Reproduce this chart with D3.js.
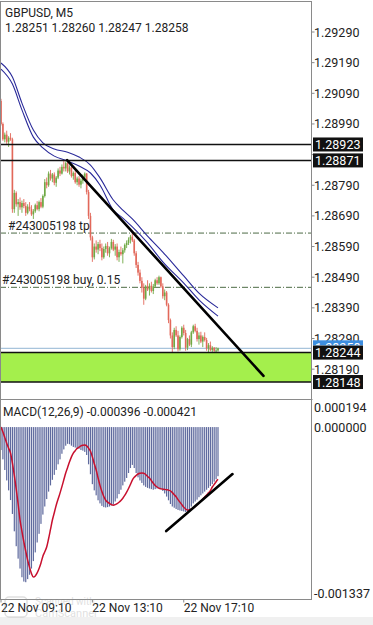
<!DOCTYPE html>
<html><head><meta charset="utf-8">
<script src="https://cdnjs.cloudflare.com/ajax/libs/d3/7.8.5/d3.min.js"></script>
<style>html,body{margin:0;padding:0;background:#fff;overflow:hidden}svg{display:block;font-family:Roboto,"Noto Sans",sans-serif}</style>
</head><body><svg id="c" width="373" height="625"></svg>
<script>
// ---------- DATA (GBPUSD M5, bar index 0 = 22 Nov 09:10) ----------
const opens  = [1.29065,1.28990,1.28940,1.28955,1.28932,1.28945,1.28940,1.28712,1.28765,1.28728,1.28735,1.28718,1.28732,1.28722,1.28700,1.28720,1.28712,1.28695,1.28705,1.28725,1.28712,1.28735,1.28720,1.28755,1.28800,1.28790,1.28828,1.28812,1.28825,1.28798,1.28815,1.28838,1.28828,1.28850,1.28845,1.28862,1.28835,1.28848,1.28820,1.28830,1.28800,1.28812,1.28792,1.28805,1.28815,1.28828,1.28768,1.28690,1.28620,1.28555,1.28590,1.28580,1.28598,1.28585,1.28555,1.28582,1.28592,1.28568,1.28585,1.28605,1.28580,1.28590,1.28555,1.28572,1.28565,1.28578,1.28595,1.28602,1.28612,1.28622,1.28610,1.28568,1.28530,1.28505,1.28478,1.28455,1.28420,1.28460,1.28450,1.28462,1.28445,1.28460,1.28480,1.28470,1.28490,1.28460,1.28428,1.28440,1.28400,1.28350,1.28300,1.28262,1.28318,1.28300,1.28255,1.28295,1.28325,1.28308,1.28260,1.28288,1.28270,1.28310,1.28330,1.28315,1.28288,1.28300,1.28280,1.28295,1.28285,1.28258,1.28268,1.28252,1.28260,1.28250,1.28251];
const highs  = [1.29072,1.28995,1.28962,1.28968,1.28950,1.28960,1.28945,1.28775,1.28770,1.28745,1.28750,1.28740,1.28745,1.28735,1.28728,1.28735,1.28725,1.28712,1.28730,1.28738,1.28740,1.28748,1.28760,1.28810,1.28815,1.28835,1.28840,1.28830,1.28832,1.28820,1.28845,1.28850,1.28858,1.28870,1.28868,1.28866,1.28855,1.28852,1.28835,1.28838,1.28818,1.28820,1.28812,1.28825,1.28832,1.28830,1.28775,1.28700,1.28625,1.28600,1.28610,1.28605,1.28612,1.28600,1.28590,1.28600,1.28605,1.28590,1.28615,1.28612,1.28598,1.28600,1.28580,1.28590,1.28585,1.28600,1.28610,1.28620,1.28628,1.28634,1.28615,1.28575,1.28540,1.28515,1.28490,1.28470,1.28465,1.28480,1.28470,1.28475,1.28468,1.28485,1.28490,1.28495,1.28492,1.28470,1.28450,1.28445,1.28405,1.28355,1.28310,1.28325,1.28330,1.28315,1.28300,1.28330,1.28335,1.28318,1.28292,1.28300,1.28315,1.28335,1.28338,1.28325,1.28310,1.28312,1.28300,1.28310,1.28292,1.28275,1.28280,1.28265,1.28262,1.28262,1.28260];
const lows   = [1.28985,1.28935,1.28930,1.28925,1.28915,1.28935,1.28700,1.28700,1.28720,1.28690,1.28710,1.28700,1.28715,1.28690,1.28695,1.28705,1.28690,1.28680,1.28700,1.28708,1.28705,1.28715,1.28715,1.28750,1.28780,1.28785,1.28805,1.28800,1.28790,1.28785,1.28810,1.28820,1.28825,1.28835,1.28835,1.28830,1.28825,1.28815,1.28808,1.28795,1.28790,1.28785,1.28780,1.28795,1.28805,1.28760,1.28680,1.28610,1.28540,1.28548,1.28570,1.28565,1.28575,1.28545,1.28550,1.28570,1.28560,1.28555,1.28580,1.28575,1.28560,1.28545,1.28540,1.28560,1.28535,1.28570,1.28585,1.28595,1.28600,1.28605,1.28560,1.28520,1.28495,1.28470,1.28440,1.28400,1.28415,1.28445,1.28430,1.28440,1.28435,1.28455,1.28465,1.28465,1.28455,1.28420,1.28415,1.28395,1.28340,1.28290,1.28245,1.28255,1.28295,1.28248,1.28250,1.28290,1.28300,1.28250,1.28252,1.28265,1.28262,1.28305,1.28310,1.28280,1.28270,1.28275,1.28262,1.28280,1.28250,1.28245,1.28248,1.28244,1.28244,1.28246,1.28247];
const closes = [1.28990,1.28940,1.28955,1.28932,1.28945,1.28940,1.28712,1.28765,1.28728,1.28735,1.28718,1.28732,1.28722,1.28700,1.28720,1.28712,1.28695,1.28705,1.28725,1.28712,1.28735,1.28720,1.28755,1.28800,1.28790,1.28828,1.28812,1.28825,1.28798,1.28815,1.28838,1.28828,1.28850,1.28845,1.28862,1.28835,1.28848,1.28820,1.28830,1.28800,1.28812,1.28792,1.28805,1.28815,1.28828,1.28768,1.28690,1.28620,1.28555,1.28590,1.28580,1.28598,1.28585,1.28555,1.28582,1.28592,1.28568,1.28585,1.28605,1.28580,1.28590,1.28555,1.28572,1.28565,1.28578,1.28595,1.28602,1.28612,1.28622,1.28610,1.28568,1.28530,1.28505,1.28478,1.28455,1.28420,1.28460,1.28450,1.28462,1.28445,1.28460,1.28480,1.28470,1.28490,1.28460,1.28428,1.28440,1.28400,1.28350,1.28300,1.28262,1.28318,1.28300,1.28255,1.28295,1.28325,1.28308,1.28260,1.28288,1.28270,1.28310,1.28330,1.28315,1.28288,1.28300,1.28280,1.28295,1.28285,1.28258,1.28268,1.28252,1.28260,1.28250,1.28251,1.28258];

// moving-average envelope (upper / lower), read at these bar indices
const maIdx   = [0,6,11,17,22,28,35,41,47,52,59,64,69,77,85,96,104,114];
const maUpper = [1.29189,1.29143,1.29058,1.28970,1.28928,1.28908,1.28898,1.28882,1.28856,1.28814,1.28742,1.28709,1.28680,1.28624,1.28572,1.28494,1.28438,1.28390];
const maLower = [1.29169,1.29120,1.29036,1.28947,1.28912,1.28885,1.28869,1.28853,1.28830,1.28791,1.28709,1.28683,1.28654,1.28602,1.28540,1.28471,1.28416,1.28363];

// MACD(12,26,9): main (histogram) and signal, per bar
const macdMain = [-0.000185,-0.000260,-0.000346,-0.000430,-0.000510,-0.000588,-0.000700,-0.000840,-0.000960,-0.001060,-0.001140,-0.001210,-0.001245,-0.001250,-0.001225,-0.001190,-0.001140,-0.001080,-0.001010,-0.000930,-0.000860,-0.000780,-0.000705,-0.000640,-0.000580,-0.000520,-0.000470,-0.000425,-0.000385,-0.000345,-0.000300,-0.000260,-0.000215,-0.000180,-0.000150,-0.000135,-0.000138,-0.000150,-0.000160,-0.000165,-0.000170,-0.000175,-0.000185,-0.000190,-0.000200,-0.000225,-0.000300,-0.000380,-0.000460,-0.000510,-0.000550,-0.000590,-0.000615,-0.000635,-0.000645,-0.000648,-0.000645,-0.000640,-0.000632,-0.000625,-0.000600,-0.000575,-0.000540,-0.000505,-0.000470,-0.000440,-0.000410,-0.000370,-0.000330,-0.000305,-0.000330,-0.000370,-0.000405,-0.000430,-0.000450,-0.000470,-0.000482,-0.000490,-0.000495,-0.000500,-0.000505,-0.000500,-0.000495,-0.000490,-0.000500,-0.000515,-0.000535,-0.000560,-0.000590,-0.000620,-0.000640,-0.000650,-0.000660,-0.000668,-0.000672,-0.000676,-0.000680,-0.000684,-0.000680,-0.000665,-0.000640,-0.000615,-0.000600,-0.000585,-0.000565,-0.000550,-0.000535,-0.000520,-0.000505,-0.000490,-0.000475,-0.000460,-0.000440,-0.000420,-0.000396];
const macdSignal = [0,-0.000040,-0.000085,-0.000130,-0.000170,-0.000210,-0.000290,-0.000390,-0.000500,-0.000620,-0.000749,-0.000840,-0.000925,-0.001000,-0.001072,-0.001130,-0.001180,-0.001209,-0.001200,-0.001175,-0.001140,-0.001095,-0.001040,-0.001005,-0.000967,-0.000900,-0.000825,-0.000749,-0.000690,-0.000630,-0.000580,-0.000532,-0.000480,-0.000425,-0.000370,-0.000325,-0.000280,-0.000240,-0.000210,-0.000190,-0.000172,-0.000162,-0.000152,-0.000147,-0.000145,-0.000152,-0.000170,-0.000195,-0.000240,-0.000295,-0.000346,-0.000410,-0.000470,-0.000520,-0.000560,-0.000590,-0.000605,-0.000615,-0.000625,-0.000629,-0.000625,-0.000616,-0.000606,-0.000592,-0.000573,-0.000550,-0.000524,-0.000495,-0.000462,-0.000427,-0.000405,-0.000390,-0.000378,-0.000372,-0.000370,-0.000372,-0.000382,-0.000398,-0.000411,-0.000432,-0.000452,-0.000470,-0.000483,-0.000493,-0.000498,-0.000500,-0.000502,-0.000505,-0.000508,-0.000515,-0.000528,-0.000545,-0.000562,-0.000585,-0.000605,-0.000625,-0.000645,-0.000660,-0.000669,-0.000668,-0.000660,-0.000653,-0.000640,-0.000625,-0.000612,-0.000597,-0.000580,-0.000563,-0.000548,-0.000530,-0.000512,-0.000483,-0.000462,-0.000440,-0.000421];

// levels / objects
const hLevels   = [1.28923, 1.28871, 1.28244, 1.28148];
const zoneLevels = [1.28244, 1.28148];
const bidPrice  = 1.28258;
const orderLevels = [1.28634, 1.28457];
const orderLabels = ["#243005198 tp", "#243005198 buy, 0.15"];
const priceTrend = [[34.7, 1.28872], [137.9, 1.28168]];
const macdTrend  = [[86.8, -0.000838], [121.6, -0.000379]];

// axes
const priceTicks = ["1.29290","1.29190","1.29090","1.28990","1.28890","1.28790","1.28690","1.28590","1.28490","1.28390","1.28290","1.28190"];
const macdTicks = ["0.000194","0.000000","-0.001337"];
const timeTickIdx = [0, 48, 96];
const timeLabels = ["22 Nov 09:10", "22 Nov 13:10", "22 Nov 17:10"];
const headerSymbol = "GBPUSD, M5";
const headerOHLC = "1.28251 1.28260 1.28247 1.28258";
const macdTitle = "MACD(12,26,9) -0.000396 -0.000421";

// ---------- DRAW ----------
const svg = d3.select("#c");
const R = 311.5, MT = 1, MB = 399.5, DT = 399.5, DB = 599.5;
const x = d3.scaleLinear().domain([0, 114]).range([1, 218]);
const y = d3.scaleLinear().domain([1.28190, 1.29290]).range([369.15, 32]);
const ym = d3.scaleLinear().domain([-0.001337, 0.000194]).range([593, 403]);

const defs = svg.append("defs");
defs.append("clipPath").attr("id","cm").append("rect").attr("x",0).attr("y",MT).attr("width",R).attr("height",MB-MT);
defs.append("clipPath").attr("id","cd").append("rect").attr("x",0).attr("y",DT).attr("width",R).attr("height",DB-DT);

svg.append("rect").attr("x",0).attr("y",617).attr("width",373).attr("height",8).attr("fill","#f0f0f0");

const gm = svg.append("g").attr("clip-path","url(#cm)");
// green zone
gm.append("rect").attr("x",0).attr("width",R)
  .attr("y", y(zoneLevels[0])).attr("height", y(zoneLevels[1]) - y(zoneLevels[0]))
  .attr("fill","#a4ef4c");
// bid line
gm.append("line").attr("x1",0).attr("x2",R).attr("y1",y(bidPrice)).attr("y2",y(bidPrice))
  .attr("stroke","#a8c4dc").attr("stroke-width",1.2);
// order lines
gm.selectAll(".ord").data(orderLevels).join("line")
  .attr("x1",0).attr("x2",R).attr("y1",d=>y(d)).attr("y2",d=>y(d))
  .attr("stroke","#4d6b45").attr("stroke-width",1).attr("stroke-dasharray","6,2,1,2");
// candles
const idx = d3.range(closes.length);
const col = i => closes[i] >= opens[i] ? "#6fa844" : "#e2685a";
gm.selectAll(".wick").data(idx).join("line")
  .attr("x1",i=>x(i)).attr("x2",i=>x(i)).attr("y1",i=>y(highs[i])).attr("y2",i=>y(lows[i]))
  .attr("stroke",col).attr("stroke-width",0.9);
gm.selectAll(".body").data(idx).join("rect")
  .attr("x",i=>x(i)-0.8).attr("width",1.6)
  .attr("y",i=>y(Math.max(opens[i],closes[i])))
  .attr("height",i=>Math.max(1, Math.abs(y(opens[i])-y(closes[i]))))
  .attr("fill",col);
// MA lines
const maLine = arr => d3.line().x((d,k)=>x(maIdx[k])).y(d=>y(d)).curve(d3.curveMonotoneX)(arr);
gm.append("path").attr("d",maLine(maUpper)).attr("fill","none").attr("stroke","#2a2a9a").attr("stroke-width",1.1);
gm.append("path").attr("d",maLine(maLower)).attr("fill","none").attr("stroke","#2a2a9a").attr("stroke-width",1.1);
// horizontal levels
gm.selectAll(".lvl").data(hLevels).join("line")
  .attr("x1",0).attr("x2",R).attr("y1",d=>y(d)).attr("y2",d=>y(d))
  .attr("stroke","#111").attr("stroke-width",1.5);
// trend line
gm.append("line").attr("x1",x(priceTrend[0][0])).attr("y1",y(priceTrend[0][1]))
  .attr("x2",x(priceTrend[1][0])).attr("y2",y(priceTrend[1][1]))
  .attr("stroke","#000").attr("stroke-width",2.6).attr("stroke-linecap","round");
// order labels
const ordX = [8, 2];
gm.selectAll(".ordt").data(orderLabels).join("text")
  .attr("x",(d,k)=>ordX[k]).attr("y",(d,k)=>y(orderLevels[k])-3)
  .attr("font-size",12).attr("fill","#222").text(d=>d);

// MACD panel
const gd = svg.append("g").attr("clip-path","url(#cd)");
gd.selectAll(".hb").data(idx).join("rect")
  .attr("x",i=>x(i)-0.6).attr("width",1.2)
  .attr("y",i=>Math.min(ym(0), ym(macdMain[i])))
  .attr("height",i=>Math.abs(ym(macdMain[i])-ym(0)))
  .attr("fill","#5f6a9e");
gd.append("path").attr("d", d3.line().x((d,i)=>x(i)).y(d=>ym(d)).curve(d3.curveMonotoneX)(macdSignal))
  .attr("fill","none").attr("stroke","#c8102e").attr("stroke-width",1.5);
gd.append("line").attr("x1",x(macdTrend[0][0])).attr("y1",ym(macdTrend[0][1]))
  .attr("x2",x(macdTrend[1][0])).attr("y2",ym(macdTrend[1][1]))
  .attr("stroke","#000").attr("stroke-width",2.6).attr("stroke-linecap","round");

// frames
const fr = svg.append("g").attr("stroke","#8a8a8a").attr("stroke-width",1).attr("fill","none");
fr.append("rect").attr("x",0.5).attr("y",MT+0.5).attr("width",R-0.5).attr("height",DB-MT-0.5);
fr.append("line").attr("x1",0).attr("x2",R+1).attr("y1",MB).attr("y2",MB);

// price axis (labels hidden where a level box covers them, as the terminal does)
const visibleTicks = priceTicks.filter(t => !hLevels.some(p => Math.abs(y(+t) - y(p)) < 9));
const pa = svg.append("g");
pa.selectAll("line").data(priceTicks).join("line")
  .attr("x1",R).attr("x2",R+3).attr("y1",d=>y(+d)).attr("y2",d=>y(+d)).attr("stroke","#8a8a8a");
pa.selectAll("text").data(visibleTicks).join("text")
  .attr("x",314).attr("y",d=>y(+d)).attr("dy","0.36em")
  .attr("font-size",12.5).attr("fill","#222").text(d=>d);

// label boxes
defs.append("clipPath").attr("id","cb").append("rect").attr("x",300).attr("y",0).attr("width",73).attr("height",y(hLevels[2])-7);
const bidG = svg.append("g").attr("clip-path","url(#cb)");
bidG.append("rect").attr("x",313).attr("width",50).attr("y",y(bidPrice)-8).attr("height",14).attr("fill","#3d8ee0");
bidG.append("text").attr("x",315).attr("y",y(bidPrice)-1).attr("dy","0.36em")
  .attr("font-size",12.5).attr("fill","#fff").text(bidPrice.toFixed(5));
const bx = svg.append("g").selectAll("g").data(hLevels).join("g");
bx.append("rect").attr("x",313).attr("width",50).attr("y",d=>y(d)-7).attr("height",14).attr("fill","#111");
bx.append("text").attr("x",315).attr("y",d=>y(d)).attr("dy","0.36em")
  .attr("font-size",12.5).attr("fill","#fff").text(d=>d.toFixed(5));

// MACD axis
const ma = svg.append("g");
ma.selectAll("text").data(macdTicks).join("text")
  .attr("x",314).attr("y",d=>Math.max(ym(+d), 407)).attr("dy","0.36em")
  .attr("font-size",12.5).attr("fill","#222").text(d=>d);

// time axis
const ta = svg.append("g");
ta.selectAll("line").data(timeTickIdx).join("line")
  .attr("x1",i=>x(i)).attr("x2",i=>x(i)).attr("y1",DB).attr("y2",DB+3).attr("stroke","#8a8a8a");
ta.selectAll("text").data(timeTickIdx).join("text")
  .attr("x",i=>x(i)).attr("y",608).attr("dy","0.36em")
  .attr("font-size",12).attr("fill","#222").text((i,k)=>timeLabels[k]);

// header
svg.append("text").attr("x",5).attr("y",13).attr("dy","0.36em").attr("font-size",12).attr("fill","#222").text(headerSymbol);
svg.append("text").attr("x",5).attr("y",28).attr("dy","0.36em").attr("font-size",12).attr("fill","#222").text(headerOHLC);
svg.append("text").attr("x",3).attr("y",412).attr("dy","0.36em").attr("font-size",12).attr("fill","#222").text(macdTitle);

// scanner watermark
const wm = svg.append("g").attr("opacity",0.3);
wm.append("rect").attr("x",5).attr("y",597).attr("width",22).attr("height",20).attr("rx",4).attr("fill","none").attr("stroke","#999").attr("stroke-width",1.5);
wm.append("text").attr("x",35).attr("y",601).attr("dy","0.36em").attr("font-size",10).attr("fill","#999").text("Scanned with");
wm.append("text").attr("x",35).attr("y",613).attr("dy","0.36em").attr("font-size",11).attr("fill","#999").text("CamScanner");
</script></body></html>
